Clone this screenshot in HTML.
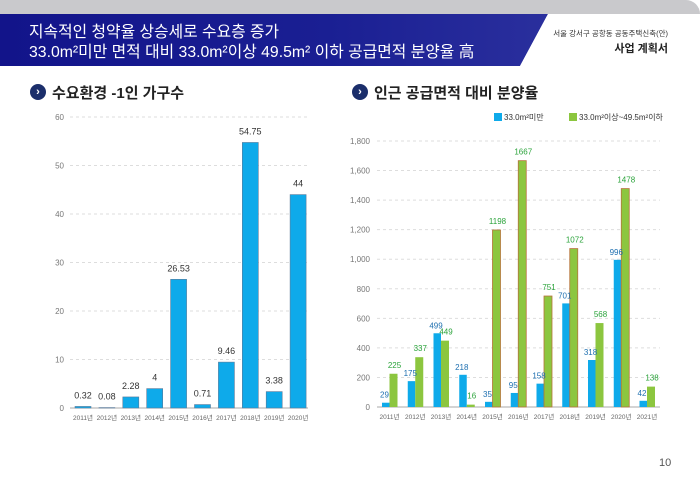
<!DOCTYPE html>
<html><head><meta charset="utf-8">
<style>
body{margin:0;width:700px;height:484px;background:#fff;font-family:"Liberation Sans","Noto Sans CJK KR",sans-serif;overflow:hidden;position:relative}
.t{position:absolute;white-space:nowrap}
</style></head><body>
<div style="position:absolute;left:0;top:0;width:700px;height:16px;background:#c9c9cc;border-radius:0 14px 0 0"></div>
<svg style="position:absolute;left:0;top:0" width="700" height="70">
<defs><linearGradient id="hg" x1="0" x2="1"><stop offset="0" stop-color="#12148a"/><stop offset="0.6" stop-color="#1a1f93"/><stop offset="1" stop-color="#2a2f9d"/></linearGradient></defs>
<path d="M0 14 L548 14 L520 66 L0 66 Z" fill="url(#hg)"/>
<path d="M548 14 L700 14 L700 66 L520 66 Z" fill="#fff"/>
</svg>
<div class="t" style="left:29px;top:19px;color:#fff;font-size:15.8px">지속적인 청약율 상승세로 수요층 증가</div>
<div class="t" style="left:29px;top:39px;color:#fff;font-size:15.8px">33.0m²미만 면적 대비 33.0m²이상 49.5m² 이하 공급면적 분양율 高</div>
<div class="t" style="right:32px;top:28px;color:#333;font-size:7.5px">서울 강서구 공항동 공동주택신축(안)</div>
<div class="t" style="right:32px;top:40px;color:#222;font-size:11px;font-weight:bold">사업 계획서</div>

<div style="position:absolute;left:30px;top:84px;width:16px;height:16px;border-radius:50%;background:#1b2e6b;color:#fff;font-size:11px;line-height:16px;text-align:center;font-weight:bold">›</div>
<div class="t" style="left:52px;top:82px;font-size:15px;font-weight:bold;color:#222">수요환경 -1인 가구수</div>
<div style="position:absolute;left:352px;top:84px;width:16px;height:16px;border-radius:50%;background:#1b2e6b;color:#fff;font-size:11px;line-height:16px;text-align:center;font-weight:bold">›</div>
<div class="t" style="left:374px;top:82px;font-size:15px;font-weight:bold;color:#222">인근 공급면적 대비 분양율</div>

<svg id="c1" style="position:absolute;left:0;top:0" width="700" height="484"></svg>
<div class="t" style="left:659px;top:457px;font-size:11px;color:#555">10</div>
<script>
const cats1=["2011년","2012년","2013년","2014년","2015년","2016년","2017년","2018년","2019년","2020년"];
const vals1=[0.32,0.08,2.28,4,26.53,0.71,9.46,54.75,3.38,44];
const labels1=["0.32","0.08","2.28","4","26.53","0.71","9.46","54.75","3.38","44"];
const ticks1=[0,10,20,30,40,50,60];
const cats2=["2011년","2012년","2013년","2014년","2015년","2016년","2017년","2018년","2019년","2020년","2021년"];
const small2=[29,175,499,218,35,95,158,701,318,996,42];
const large2=[225,337,449,16,1198,1667,751,1072,568,1478,138];
const ticks2=[0,200,400,600,800,1000,1200,1400,1600,1800];
const tickLabels2=["0","200","400","600","800","1,000","1,200","1,400","1,600","1,800"];
const NS="http://www.w3.org/2000/svg";
const svg=document.getElementById('c1');
function mk(tag,attrs,parent){const e=document.createElementNS(NS,tag);for(const k in attrs)e.setAttribute(k,attrs[k]);(parent||svg).appendChild(e);return e;}
function txt(x,y,s,size,fill,anchor){const e=mk('text',{x:x,y:y,'font-size':size,fill:fill,'text-anchor':anchor||'middle','font-family':'Liberation Sans, Noto Sans CJK KR, sans-serif'});e.textContent=s;return e;}
// chart 1
const y1=v=>408-v*(291/60);
const x1=i=>83+i*23.9;
ticks1.forEach(t=>{
 const g=mk('line',{x1:70,x2:308,y1:y1(t),y2:y1(t),stroke:t===0?'#aaa':'#ddd','stroke-dasharray':t===0?'':'3,3'});
 
 
 const l=txt(64,y1(t)+3,String(t),8,'#777','end');
 
 
});
cats1.forEach((c,i)=>{
 const b=mk('rect',{x:x1(i)-8,y:y1(vals1[i]),width:16,height:408-y1(vals1[i]),fill:'#0eaaea',stroke:'#5a7a9a','stroke-width':0.6});
 
 
 const v=txt(x1(i),y1(vals1[i])-8,labels1[i],9,'#333');
 
 
 const l=txt(x1(i),420,c,6.5,'#666');
 
 
});
// chart 2
const y2=v=>407-v*(266/1800);
const x2=i=>389.5+i*25.75;
ticks2.forEach((t,k)=>{
 const g=mk('line',{x1:377,x2:660,y1:y2(t),y2:y2(t),stroke:t===0?'#aaa':'#ddd','stroke-dasharray':t===0?'':'3,3'});
 
 
 const l=txt(370,y2(t)+3,tickLabels2[k],8,'#777','end');
 
 
});
cats2.forEach((c,i)=>{
 const b=mk('rect',{x:x2(i)-7.5,y:y2(small2[i]),width:7.5,height:407-y2(small2[i]),fill:'#0eaaea'});
 
 
 const g=mk('rect',{x:x2(i),y:y2(large2[i]),width:8,height:407-y2(large2[i]),fill:'#8cc63f',stroke:large2[i]>700?'#b5733a':'none','stroke-width':0.8});
 
 
 const v=txt(x2(i)-5,y2(small2[i])-5,String(small2[i]),8,'#1d6fb0');
 
 
 const w=txt(x2(i)+5,y2(large2[i])-6,String(large2[i]),8,'#2aa33a');
 
 
 const l=txt(x2(i),419,c,6.5,'#666');
 
 
});
// legend
const lg1=mk('rect',{x:494,y:113,width:8,height:8,fill:'#0eaaea'});


const lt1=txt(504,120,'33.0m²미만',8,'#333','start');


const lg2=mk('rect',{x:569,y:113,width:8,height:8,fill:'#8cc63f'});


const lt2=txt(579,120,'33.0m²이상~49.5m²이하',8,'#333','start');


</script>
</body></html>
